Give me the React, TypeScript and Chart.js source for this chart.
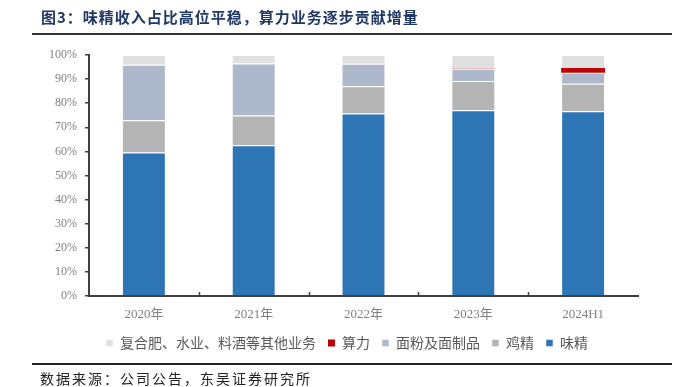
import React, { useEffect, useRef } from "react";
import { Chart, registerables } from "chart.js";

Chart.register(...registerables);

const categories = ["2020年", "2021年", "2022年", "2023年", "2024H1"];
const weijing = [59.5, 62.6, 75.7, 77.1, 76.7];
const jijing = [13.4, 12.3, 11.3, 12.1, 11.4];
const mianfen = [23.1, 21.6, 9.4, 5.1, 4.5];
const suanli = [0, 0, 0, 0.15, 2.0];
const other = [4.0, 3.5, 3.6, 5.55, 5.4];
const yTicks = [0, 10, 20, 30, 40, 50, 60, 70, 80, 90, 100];

const innerTicks = {
  id: "innerTicks",
  afterDraw(chart: any) {
    const x = chart.scales.x;
    const ctx = chart.ctx;
    const bottom = chart.chartArea.bottom;
    ctx.save();
    ctx.strokeStyle = "#3f3f3f";
    ctx.lineWidth = 1.5;
    for (let i = 0; i < categories.length - 1; i++) {
      const px = (x.getPixelForValue(i) + x.getPixelForValue(i + 1)) / 2;
      ctx.beginPath();
      ctx.moveTo(Math.round(px) + 0.5, bottom);
      ctx.lineTo(Math.round(px) + 0.5, bottom - 4);
      ctx.stroke();
    }
    ctx.restore();
  },
};

const legendShift = {
  id: "legendShift",
  afterLayout(chart: any) {
    if (chart.legend) {
      chart.legend.left += 8;
      chart.legend.right += 8;
    }
  },
};

export default function App() {
  const ref = useRef<HTMLCanvasElement>(null);
  useEffect(() => {
    if (!ref.current) return;
    const border = "rgba(255,255,255,0.5)";
    const chart = new Chart(ref.current, {
      type: "bar",
      data: {
        labels: categories,
        datasets: [
          { label: "味精", data: weijing, backgroundColor: "#2E75B6", borderColor: border, borderWidth: 1 },
          { label: "鸡精", data: jijing, backgroundColor: "#B4B4B4", borderColor: border, borderWidth: 1 },
          { label: "面粉及面制品", data: mianfen, backgroundColor: "#ADB9CA", borderColor: border, borderWidth: 1 },
          { label: "算力", data: suanli, backgroundColor: "#C00000", borderColor: border, borderWidth: 0 },
          { label: "复合肥、水业、料酒等其他业务", data: other, backgroundColor: "#E0E0E0", borderColor: border, borderWidth: 1 },
        ],
      },
      options: {
        responsive: false,
        animation: false,
        layout: { padding: { top: 55, right: 52, left: 40, bottom: 27 } },
        datasets: { bar: { categoryPercentage: 1, barPercentage: 0.4 } },
        plugins: {
          tooltip: { enabled: false },
          legend: {
            position: "bottom",
            reverse: true,
            labels: {
              boxWidth: 7,
              boxHeight: 7,
              padding: 12,
              color: "#595959",
              font: { family: "'Noto Sans CJK SC'", size: 14 },
            },
          },
        },
        scales: {
          x: {
            stacked: true,
            grid: { display: true, drawOnChartArea: false, drawTicks: false },
            border: { display: true, color: "#3f3f3f", width: 2 },
            ticks: {
              color: "#808080",
              padding: 11,
              font: { family: "'Liberation Serif', 'Noto Sans CJK SC'", size: 13 },
            },
            afterFit(scale: any) {
              scale.height = 28;
            },
          },
          y: {
            stacked: true,
            min: 0,
            max: 100,
            afterBuildTicks(scale: any) {
              scale.ticks = yTicks.map((v) => ({ value: v }));
            },
            grid: { display: true, drawOnChartArea: false, drawTicks: true, tickLength: 4, color: "#3f3f3f", lineWidth: 1.5 },
            border: { display: true, color: "#3f3f3f", width: 2 },
            ticks: {
              color: "#808080",
              padding: 8,
              font: { family: "'Liberation Serif'", size: 12 },
              callback: (v: any) => v + "%",
            },
            afterFit(scale: any) {
              scale.width = 49;
            },
          },
        },
      },
      plugins: [innerTicks, legendShift],
    });
    return () => chart.destroy();
  }, []);

  return (
    <div style={{ position: "fixed", left: 0, top: 0, width: 690, height: 387, background: "#fff", overflow: "hidden" }}>
      <canvas ref={ref} width={690} height={387} style={{ position: "absolute", left: 0, top: 0 }} />
      <div
        style={{
          position: "absolute",
          left: 41,
          top: 7,
          fontFamily: "'Noto Sans CJK SC'",
          fontWeight: 700,
          fontSize: 15,
          letterSpacing: "1px",
          color: "#1F3864",
          whiteSpace: "nowrap",
          lineHeight: "20px",
        }}
      >
        图3：味精收入占比高位平稳，算力业务逐步贡献增量
      </div>
      <div style={{ position: "absolute", left: 32, top: 33, width: 640, height: 2, background: "#333" }} />
      <div style={{ position: "absolute", left: 32, top: 363, width: 640, height: 2, background: "#222" }} />
      <div
        style={{
          position: "absolute",
          left: 40,
          top: 368,
          fontFamily: "'Noto Sans CJK SC'",
          fontSize: 14,
          letterSpacing: "2px",
          color: "#222",
          whiteSpace: "nowrap",
          lineHeight: "20px",
        }}
      >
        数据来源：公司公告，东吴证券研究所
      </div>
    </div>
  );
}
